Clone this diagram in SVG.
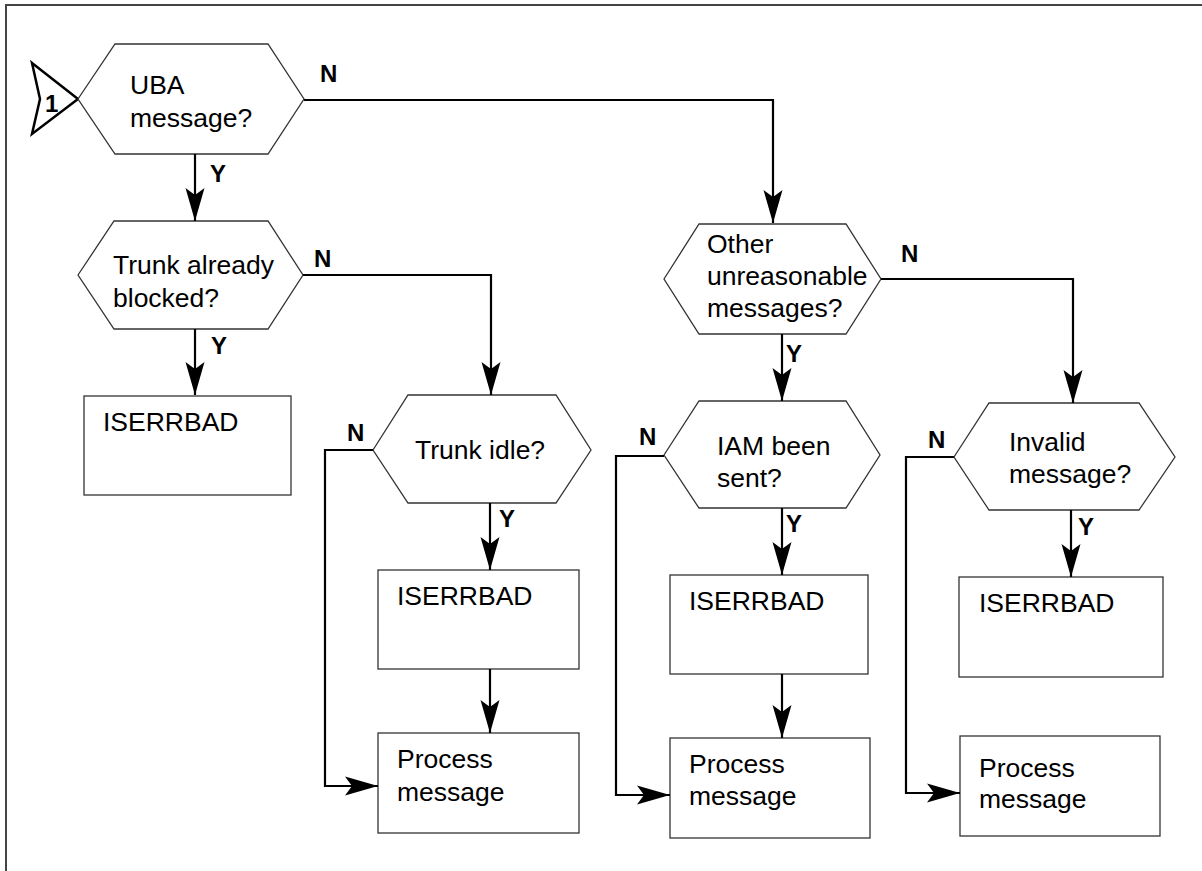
<svg xmlns="http://www.w3.org/2000/svg" width="1202" height="871" viewBox="0 0 1202 871">
<style>
.t{font-family:"Liberation Sans",Arial,sans-serif;font-size:26.5px;fill:#000}
.l{font-family:"Liberation Sans",Arial,sans-serif;font-size:24px;font-weight:bold;fill:#000}
.s{fill:#fff;stroke:#333;stroke-width:1.3}
.c{fill:none;stroke:#000;stroke-width:2.2}
</style>
<defs>
<marker id="ah" viewBox="-34 -11 35 22" refX="0" refY="0" markerWidth="35" markerHeight="22" markerUnits="userSpaceOnUse" orient="auto">
<path d="M0,0 L-33,-9.5 L-26,0 L-33,9.5 Z" fill="#000"/>
</marker>
</defs>
<rect x="0" y="0" width="1202" height="871" fill="#fff"/>
<path d="M6,871 V5 H1202" fill="none" stroke="#444" stroke-width="2"/>

<g id="start">
<polygon points="32,63 78,99 32,134 40,99" fill="#fff" stroke="#000" stroke-width="2.5" stroke-linejoin="miter"/>
<text class="l" x="45" y="112">1</text>
</g>
<g id="uba">
<polygon class="s" points="78,99 115,44 268,44 304,99 268,154 115,154"/>
<text class="t" x="130" y="94">UBA</text>
<text class="t" x="130" y="127">message?</text>
</g>
<g id="trunkBlocked">
<polygon class="s" points="78,275 114,221 268,221 303,275 268,329 114,329"/>
<text class="t" x="113" y="274">Trunk already</text>
<text class="t" x="113" y="307">blocked?</text>
</g>
<g id="iserr1">
<rect class="s" x="84" y="396" width="207" height="99"/>
<text class="t" x="103" y="431">ISERRBAD</text>
</g>
<g id="trunkIdle">
<polygon class="s" points="373,450 408,395 556,395 591,450 556,503 408,503"/>
<text class="t" x="415" y="459">Trunk idle?</text>
</g>
<g id="iserr2">
<rect class="s" x="378" y="570" width="201" height="99"/>
<text class="t" x="397" y="605">ISERRBAD</text>
</g>
<g id="process1">
<rect class="s" x="378" y="733" width="201" height="100"/>
<text class="t" x="397" y="768">Process</text>
<text class="t" x="397" y="801">message</text>
</g>
<g id="other">
<polygon class="s" points="664,279 699,224 846,224 881,279 846,334 699,334"/>
<text class="t" x="707" y="253">Other</text>
<text class="t" x="707" y="285">unreasonable</text>
<text class="t" x="707" y="317">messages?</text>
</g>
<g id="iam">
<polygon class="s" points="664,455 699,401 846,401 880,455 846,508 699,508"/>
<text class="t" x="717" y="455">IAM been</text>
<text class="t" x="717" y="487">sent?</text>
</g>
<g id="iserr3">
<rect class="s" x="670" y="575" width="198" height="99"/>
<text class="t" x="689" y="610">ISERRBAD</text>
</g>
<g id="process2">
<rect class="s" x="670" y="738" width="200" height="100"/>
<text class="t" x="689" y="773">Process</text>
<text class="t" x="689" y="805">message</text>
</g>
<g id="invalid">
<polygon class="s" points="954,457 989,403 1139,403 1175,457 1139,510 989,510"/>
<text class="t" x="1009" y="451">Invalid</text>
<text class="t" x="1009" y="483">message?</text>
</g>
<g id="iserr4">
<rect class="s" x="959" y="577" width="204" height="100"/>
<text class="t" x="979" y="612">ISERRBAD</text>
</g>
<g id="process3">
<rect class="s" x="960" y="736" width="200" height="100"/>
<text class="t" x="979" y="777">Process</text>
<text class="t" x="979" y="808">message</text>
</g>

<g id="connectors">
<path class="c" d="M304,100 H773 V223" marker-end="url(#ah)"/>
<path class="c" d="M195,154 V221" marker-end="url(#ah)"/>
<path class="c" d="M303,275 H491 V395" marker-end="url(#ah)"/>
<path class="c" d="M195,329 V395" marker-end="url(#ah)"/>
<path class="c" d="M373,450 H325 V786 H378" marker-end="url(#ah)"/>
<path class="c" d="M490,503 V570" marker-end="url(#ah)"/>
<path class="c" d="M490,669 V733" marker-end="url(#ah)"/>
<path class="c" d="M881,279 H1073 V403" marker-end="url(#ah)"/>
<path class="c" d="M782,334 V401" marker-end="url(#ah)"/>
<path class="c" d="M664,456 H616 V795 H670" marker-end="url(#ah)"/>
<path class="c" d="M782,508 V575" marker-end="url(#ah)"/>
<path class="c" d="M782,674 V738" marker-end="url(#ah)"/>
<path class="c" d="M954,457 H906 V793 H960" marker-end="url(#ah)"/>
<path class="c" d="M1071,510 V577" marker-end="url(#ah)"/>
<text class="l" x="320" y="82">N</text>
<text class="l" x="210" y="182">Y</text>
<text class="l" x="314" y="267">N</text>
<text class="l" x="211" y="354">Y</text>
<text class="l" x="347" y="441">N</text>
<text class="l" x="499" y="527">Y</text>
<text class="l" x="901" y="262">N</text>
<text class="l" x="786" y="362">Y</text>
<text class="l" x="639" y="445">N</text>
<text class="l" x="786" y="532">Y</text>
<text class="l" x="928" y="448">N</text>
<text class="l" x="1078" y="535">Y</text>
</g>
</svg>
